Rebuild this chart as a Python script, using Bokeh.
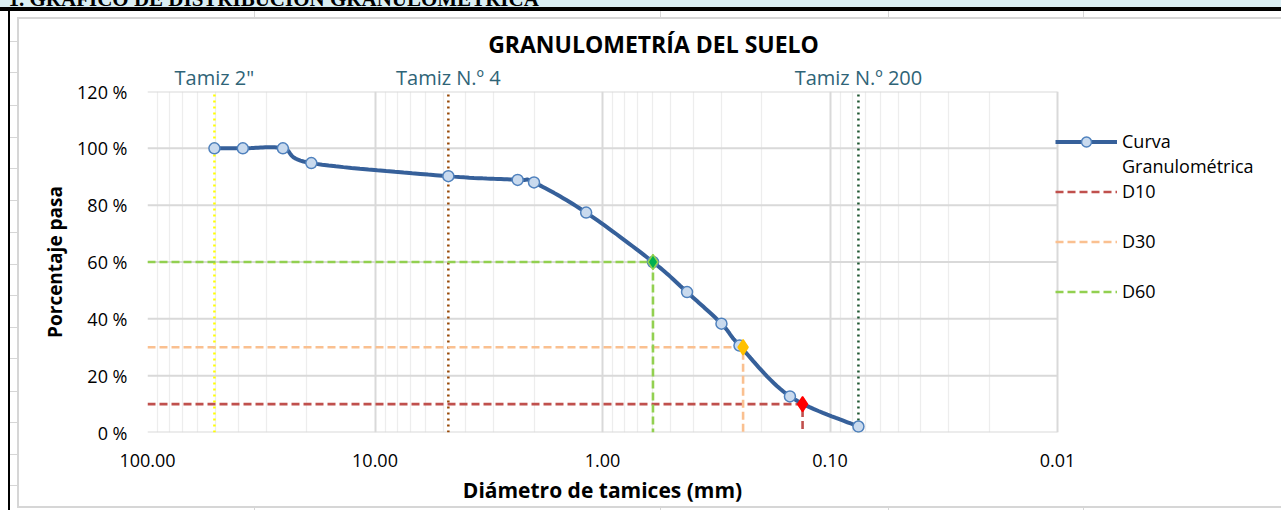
import numpy as np
from bokeh.plotting import figure
from bokeh.models import (Range1d, FixedTicker, NumeralTickFormatter, PrintfTickFormatter,
                          Label, Legend, LegendItem, ColumnDataSource, LogAxis)
from bokeh.embed import file_html
from bokeh.resources import INLINE

# ---- sieve analysis data ----
sieve_mm = [50.8, 38.1, 25.4, 19.05, 4.76, 2.36, 2.0, 1.18, 0.6, 0.425, 0.3, 0.25, 0.15, 0.075]
passing_pct = [100.0, 100.0, 100.0, 94.8, 90.2, 88.9, 88.0, 77.4, 60.0, 49.4, 38.3, 30.6, 12.7, 2.1]

# characteristic diameters
d_names = ["D10", "D30", "D60"]
d_pct = [10, 30, 60]
d_mm = [0.132, 0.241, 0.6]
d_line_colors = ["#C0504D", "#FAC090", "#92D050"]
d_marker_colors = ["#FF0000", "#FFC000", "#00B050"]
d_marker_lines = ["#FF0000", "#FFC000", "#92D050"]

# reference sieves
ref_names = ['Tamiz 2"', "Tamiz N.º 4", "Tamiz N.º 200"]
ref_mm = [50.8, 4.76, 0.075]
ref_colors = ["#FFFF00", "#974806", "#1E5631"]

x_ticks = [100, 10, 1, 0.1, 0.01]
x_minor = [k * d for d in [10, 1, 0.1, 0.01] for k in range(2, 10)]
y_ticks = [0, 20, 40, 60, 80, 100, 120]

FONT = "Open Sans"
TEAL = "#2F6477"
GRID = "#D9D9D9"

# page geometry: the plotting frame runs to the right edge so that the legend
# sits inside it; the data area itself covers 4 decades over 910 px.
W, H = 1281, 510
LEFT, TOP, BOTTOM = 147, 91, 78
DATA_W = 910
x_end = 10 ** (2 - 4 * (W - LEFT) / DATA_W)


def smooth(xs, ys, n=18):
    """Catmull-Rom spline through the points, in log10(x) / linear y space."""
    u = np.log10(np.asarray(xs, float))
    v = np.asarray(ys, float)
    P = np.column_stack([u, v])
    P = np.vstack([P[0], P, P[-1]])
    out = []
    for i in range(1, len(P) - 2):
        p0, p1, p2, p3 = P[i - 1], P[i], P[i + 1], P[i + 2]
        for t in np.linspace(0, 1, n, endpoint=False):
            t2, t3 = t * t, t * t * t
            pt = 0.5 * ((2 * p1) + (-p0 + p2) * t + (2 * p0 - 5 * p1 + 4 * p2 - p3) * t2
                        + (-p0 + 3 * p1 - 3 * p2 + p3) * t3)
            out.append(pt)
    out.append(P[-2])
    out = np.array(out)
    return 10 ** out[:, 0], out[:, 1]


# spreadsheet backdrop behind the chart area
bg_layers = [
    "linear-gradient(#DAEEF3,#DAEEF3) 0 0/100% 7px no-repeat",
    "linear-gradient(#000,#000) 0 7px/100% 4px no-repeat",
    "linear-gradient(#000,#000) 8px 7px/2px 100% no-repeat",
    "linear-gradient(#D6D6D6,#D6D6D6) 17px 17px/100% 2px no-repeat",
    "linear-gradient(#D6D6D6,#D6D6D6) 17px 17px/2px 491px no-repeat",
    "linear-gradient(#D6D6D6,#D6D6D6) 17px 506px/100% 2px no-repeat",
]
for cx in [254, 660, 888, 1083]:
    bg_layers.append(f"linear-gradient(#D6D6D6,#D6D6D6) {cx}px 11px/1px 6px no-repeat")
    bg_layers.append(f"linear-gradient(#D6D6D6,#D6D6D6) {cx}px 508px/1px 2px no-repeat")
for ry in [41, 72, 105, 137, 168, 200, 232, 264, 295, 327, 358, 391, 422, 454, 485]:
    bg_layers.append(f"linear-gradient(#D6D6D6,#D6D6D6) 10px {ry}px/7px 1px no-repeat")
background_css = ", ".join(bg_layers) + ", #FFFFFF"

p = figure(width=W, height=H, x_axis_type="log",
           x_range=Range1d(100, x_end), y_range=Range1d(0, 120),
           output_backend="svg", toolbar_location=None,
           min_border_left=LEFT, min_border_right=0, min_border_top=TOP, min_border_bottom=BOTTOM,
           border_fill_color=None, background_fill_color="#FFFFFF",
           outline_line_color=None,
           styles={"background": background_css})

# axes
p.xaxis.ticker = FixedTicker(ticks=x_ticks, minor_ticks=x_minor)
p.xaxis.formatter = NumeralTickFormatter(format="0.00")
p.yaxis.ticker = FixedTicker(ticks=y_ticks)
p.yaxis.formatter = PrintfTickFormatter(format="%d %%")
for ax in (p.xaxis[0], p.yaxis[0]):
    ax.axis_line_color = None
    ax.major_tick_line_color = None
    ax.minor_tick_line_color = None
    ax.major_label_text_font = FONT
    ax.major_label_text_color = "#000000"
    ax.axis_label_text_font = FONT
    ax.axis_label_text_font_style = "bold"
    ax.axis_label_text_color = "#000000"
p.xaxis.major_label_text_font_size = "18px"
p.yaxis.major_label_text_font_size = "18px"
p.yaxis.axis_label_text_font_size = "19px"
p.yaxis.axis_label = "Porcentaje pasa"
p.xaxis.major_label_standoff = 15
p.yaxis.major_label_standoff = 14
p.yaxis.axis_label_standoff = 6

# grid: vertical lines from the log ticker, horizontal lines limited to the data area
p.xgrid.grid_line_color = GRID
p.xgrid.grid_line_width = 2
p.xgrid.minor_grid_line_color = "#EDEDED"
p.xgrid.minor_grid_line_width = 1.3
p.ygrid.grid_line_color = None
p.segment(x0=x_ticks[0], x1=x_ticks[-1], y0=y_ticks, y1=y_ticks, line_color=GRID, line_width=2)

# reference sieve lines
ref_src = ColumnDataSource(dict(x=ref_mm, color=ref_colors))
p.segment(x0="x", y0=0, x1="x", y1=120, source=ref_src, line_color="color",
          line_width=2.5, line_dash="2 4")

# D10 / D30 / D60 guide lines and markers
d_renderers = []
for pct, mm, lc in zip(d_pct, d_mm, d_line_colors):
    r = p.line(x=[100, mm, mm], y=[pct, pct, 0], line_color=lc, line_width=2.6, line_dash="8 4")
    d_renderers.append(r)

# grading curve
sx, sy = smooth(sieve_mm, passing_pct)
curve_line = p.line(x=sx, y=sy, line_color="#36609A", line_width=4)
curve_pts = p.scatter(x=sieve_mm, y=passing_pct, marker="circle", size=11,
                      fill_color="#C9DAEE", line_color="#4F81BD", line_width=1.5)

for pct, mm, mc, ml in zip(d_pct, d_mm, d_marker_colors, d_marker_lines):
    p.scatter(x=[mm], y=[pct], marker="diamond", size=15, fill_color=mc, line_color=ml, line_width=1.5)

# legend to the right of the data area
blank = p.line(x=[], y=[], line_alpha=0)
items = [
    LegendItem(label="Curva", renderers=[curve_line, curve_pts]),
    LegendItem(label="Granulométrica", renderers=[blank]),
    LegendItem(label="D10", renderers=[d_renderers[0]]),
    LegendItem(label=" ", renderers=[blank]),
    LegendItem(label="D30", renderers=[d_renderers[1]]),
    LegendItem(label=" ", renderers=[blank]),
    LegendItem(label="D60", renderers=[d_renderers[2]]),
]
legend = Legend(items=items, location=(DATA_W - 2, 128.5), orientation="vertical",
                glyph_width=62, glyph_height=25, label_height=25, label_standoff=5,
                spacing=0, padding=0, margin=0, border_line_color=None,
                background_fill_alpha=0, label_text_font=FONT, label_text_font_size="18px",
                label_text_color="#000000")
p.add_layout(legend, "center")

# reference sieve names along the top edge of the data area
ref_axis = LogAxis(ticker=FixedTicker(ticks=ref_mm),
                   major_label_overrides={m: n for m, n in zip(ref_mm, ref_names)},
                   axis_line_color=None, major_tick_line_color=None, minor_tick_line_color=None,
                   major_tick_out=0, minor_tick_out=0,
                   major_label_standoff=1, major_label_text_font=FONT,
                   major_label_text_font_size="20px", major_label_text_color=TEAL)
p.add_layout(ref_axis, "above")

# chart title and sheet header, stacked above the sieve names
p.add_layout(Label(x=506, y=17, x_units="screen", y_units="screen",
                   text="GRANULOMETRÍA DEL SUELO", text_align="center", text_baseline="middle",
                   text_font=FONT, text_font_style="bold", text_font_size="23px",
                   text_color="#000000"), "above")
p.add_layout(Label(x=-139, y=30, x_units="screen", y_units="screen",
                   text="1. GRÁFICO DE DISTRIBUCIÓN GRANULOMÉTRICA", text_align="left",
                   text_baseline="alphabetic", text_font="Liberation Serif",
                   text_font_style="bold", text_font_size="21px", text_color="#000000"), "above")

# x-axis title centred under the data area
p.add_layout(Label(x=DATA_W / 2, y=8, x_units="screen", y_units="screen",
                   text="Diámetro de tamices (mm)", text_align="center", text_baseline="middle",
                   text_font=FONT, text_font_style="bold", text_font_size="21px",
                   text_color="#000000"), "below")

open("out.html", "w").write(file_html(p, INLINE))
